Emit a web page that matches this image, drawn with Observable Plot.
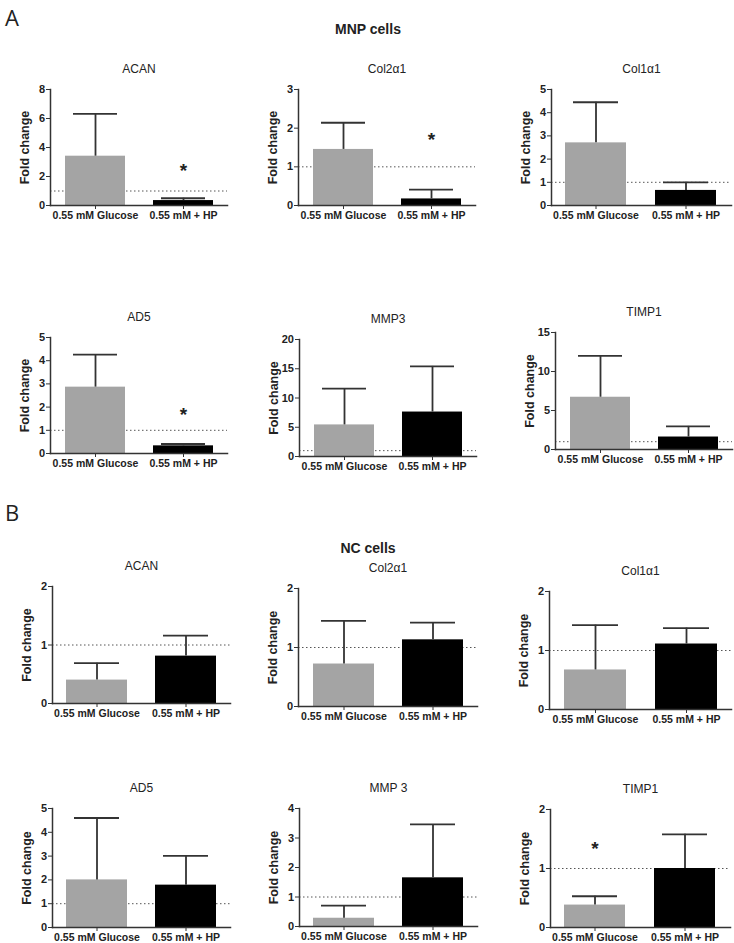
<!DOCTYPE html>
<html>
<head>
<meta charset="utf-8">
<script src="https://cdn.jsdelivr.net/npm/d3@7"></script>
<script src="https://cdn.jsdelivr.net/npm/@observablehq/plot@0.6"></script>
<style>
  html, body { margin: 0; padding: 0; background: #fff; }
  #root { position: relative; width: 734px; height: 943px; overflow: hidden; font-family: "Liberation Sans", Arial, sans-serif; color: #222; }
  .abs { position: absolute; }
  .letter { font-family: "Open Sans", "Noto Sans", sans-serif; font-size: 22px; line-height: 1; }
  .group { font-weight: bold; font-size: 14px; transform: translateX(-50%); white-space: nowrap; }
  g[aria-label="y-axis label"], g[aria-label="y-axis label"] text { font-size: 12.5px !important; font-weight: bold; }
</style>
</head>
<body>
<div id="root"></div>
<script>
// ---- data ----
const conditions = ["0.55 mM Glucose", "0.55 mM + HP"];

const groupTitleA = "MNP cells";
const genesA = ["ACAN", "Col2α1", "Col1α1", "AD5", "MMP3", "TIMP1"];
const glucoseMeanA = [3.4, 1.45, 2.7, 2.86, 5.4, 6.7];
const glucoseSdA   = [2.92, 0.69, 1.75, 1.40, 6.2, 5.3];
const hpMeanA      = [0.34, 0.17, 0.65, 0.33, 7.6, 1.6];
const hpSdA        = [0.16, 0.24, 0.35, 0.08, 7.8, 1.36];
const yMaxA        = [8, 3, 5, 5, 20, 15];
const yStepA       = [2, 1, 1, 1, 5, 5];
const starCondA    = [1, 1, null, 1, null, null];
const starYA       = [2.76, 1.83, null, 1.86, null, null];

const groupTitleB = "NC cells";
const genesB = ["ACAN", "Col2α1", "Col1α1", "AD5", "MMP 3", "TIMP1"];
const glucoseMeanB = [0.4, 0.72, 0.67, 2.0, 0.28, 0.38];
const glucoseSdB   = [0.29, 0.73, 0.76, 2.6, 0.43, 0.15];
const hpMeanB      = [0.81, 1.13, 1.11, 1.78, 1.65, 1.0];
const hpSdB        = [0.35, 0.29, 0.27, 1.23, 1.81, 0.58];
const yMaxB        = [2, 2, 2, 5, 4, 2];
const yStepB       = [1, 1, 1, 1, 1, 1];
const starCondB    = [null, null, null, null, null, 0];
const starYB       = [null, null, null, null, null, 1.41];

// ---- layout (pixel boxes of each plotting frame: axis x, top y, zero y, end x) ----
const layoutA = [
  {x: 50, top: 89, zero: 205, end: 227},
  {x: 298, top: 89, zero: 205, end: 475},
  {x: 551, top: 89, zero: 205, end: 731},
  {x: 50, top: 337, zero: 453, end: 227},
  {x: 299, top: 339, zero: 456, end: 476},
  {x: 555, top: 332, zero: 449, end: 732}
];
const layoutB = [
  {x: 52, top: 586, zero: 703, end: 230},
  {x: 298, top: 588, zero: 706, end: 477},
  {x: 549, top: 591, zero: 709, end: 731},
  {x: 52, top: 808, zero: 927, end: 230},
  {x: 299, top: 808, zero: 926, end: 477},
  {x: 550, top: 809, zero: 927, end: 730}
];

const root = document.getElementById("root");
const ML = 48, MR = 3, MT = 34, MB = 24;
const axisColor = "#333";

function addText(text, cls, left, top) {
  const d = document.createElement("div");
  d.className = "abs " + cls;
  d.textContent = text;
  d.style.left = left + "px";
  d.style.top = top + "px";
  root.appendChild(d);
}

function panel(gene, gMean, gSd, hMean, hSd, yMax, yStep, starCond, starY, box) {
  const data = conditions.map((c, i) => ({
    cond: c,
    mean: i === 0 ? gMean : hMean,
    top: i === 0 ? gMean + gSd : hMean + hSd
  }));
  const stars = starCond == null ? [] : [{cond: conditions[starCond], y: starY}];
  const plot = Plot.plot({
    width: ML + (box.end - box.x) + MR,
    height: MT + (box.zero - box.top) + MB,
    marginLeft: ML, marginRight: MR, marginTop: MT, marginBottom: MB,
    x: {domain: conditions, paddingInner: 0.32, paddingOuter: 0.16, label: null},
    y: {domain: [0, yMax], label: null},
    color: {domain: conditions, range: ["#a4a4a4", "#000000"]},
    style: {fontFamily: "'Liberation Sans', Arial, sans-serif", color: "#222", background: "transparent", overflow: "visible"},
    marks: [
      Plot.ruleY([1], {stroke: "#555", strokeWidth: 1, strokeDasharray: "1.5,2.5"}),
      Plot.barY(data, {x: "cond", y: "mean", fill: "cond"}),
      Plot.ruleX(data, {x: "cond", y1: "mean", y2: "top", stroke: axisColor, strokeWidth: 1.8}),
      Plot.tickY(data, {x: "cond", y: "top", stroke: axisColor, strokeWidth: 1.8, insetLeft: 8, insetRight: 8}),
      Plot.text(stars, {x: "cond", y: "y", text: () => "*", fontSize: 19, fontWeight: "bold", dy: 5, fill: "#222"}),
      Plot.frame({anchor: "left", stroke: axisColor, strokeWidth: 1.5}),
      Plot.frame({anchor: "bottom", stroke: axisColor, strokeWidth: 1.5}),
      Plot.axisY({
        ticks: d3.range(0, yMax + yStep / 2, yStep),
        tickFormat: d3.format("d"),
        tickSize: 4, tickPadding: 1.5,
        fontSize: 11, fontWeight: "bold",
        stroke: axisColor,
        label: null
      }),
      Plot.axisY({
        ticks: [], tickSize: 0,
        fontSize: 12.5, fontWeight: "bold",
        label: "Fold change", labelAnchor: "center", labelArrow: "none", labelOffset: 30
      }),
      Plot.axisX({
        tickSize: 4, tickPadding: 2,
        fontSize: 10.5, fontWeight: "bold",
        stroke: axisColor,
        label: null
      }),
      Plot.text([gene], {text: d => d, frameAnchor: "top", dy: -25, fontSize: 12, fill: "#222"})
    ]
  });
  plot.style.position = "absolute";
  plot.style.left = (box.x - ML) + "px";
  plot.style.top = (box.top - MT) + "px";
  root.appendChild(plot);
}

genesA.forEach((g, i) => panel(g, glucoseMeanA[i], glucoseSdA[i], hpMeanA[i], hpSdA[i], yMaxA[i], yStepA[i], starCondA[i], starYA[i], layoutA[i]));
genesB.forEach((g, i) => panel(g, glucoseMeanB[i], glucoseSdB[i], hpMeanB[i], hpSdB[i], yMaxB[i], yStepB[i], starCondB[i], starYB[i], layoutB[i]));

addText("A", "letter", 5, 6);
addText(groupTitleA, "group", 368, 21);
addText("B", "letter", 5, 501);
addText(groupTitleB, "group", 368, 540);
</script>
</body>
</html>
